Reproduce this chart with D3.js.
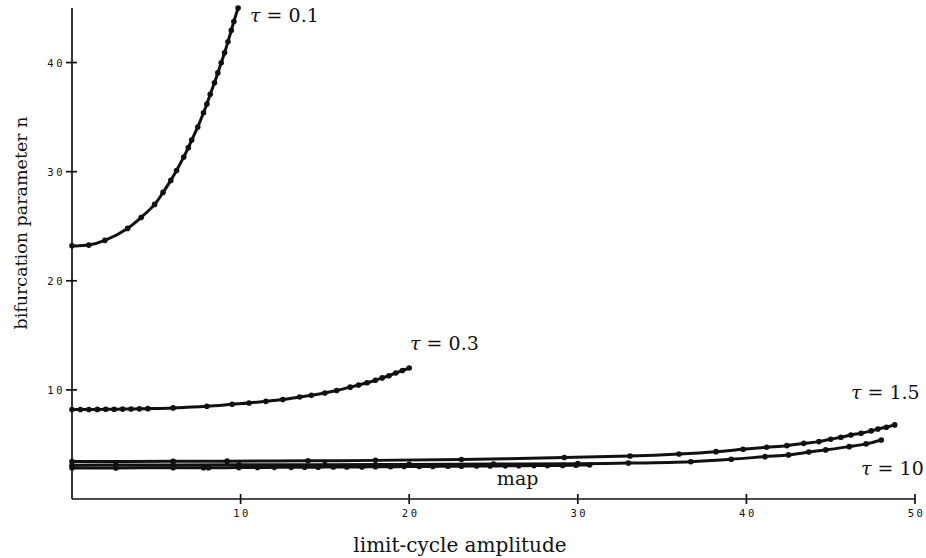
<!DOCTYPE html>
<html>
<head>
<meta charset="utf-8">
<script src="https://cdn.jsdelivr.net/npm/d3@7"></script>
<style>
  html, body { margin: 0; padding: 0; background: #fff; }
  svg { display: block; }
  .tick-label { font-family: "DejaVu Sans Mono", monospace; font-size: 10.5px; letter-spacing: 2.5px; fill: #111; }
  .title { font-family: "DejaVu Serif", serif; fill: #111; }
  .curve-label { font-family: "DejaVu Serif", serif; font-size: 19px; fill: #111; }
</style>
</head>
<body>
<svg id="chart" width="926" height="558"></svg>
<script>
// Bifurcation parameter n versus limit-cycle amplitude, for several delays tau

const xTicks = [10, 20, 30, 40, 50];
const yTicks = [10, 20, 30, 40];

const tau01X = [0, 1.0, 1.95, 3.3, 4.1, 4.9, 5.4, 5.86, 6.2, 6.63, 6.9, 7.1, 7.46, 7.8, 8.0, 8.2, 8.45, 8.65, 8.85, 9.05, 9.25, 9.45, 9.6, 9.85];
const tau01N = [23.2, 23.27, 23.7, 24.8, 25.8, 27.0, 28.1, 29.2, 30.1, 31.35, 32.2, 32.9, 34.1, 35.4, 36.2, 37.1, 38.15, 39.05, 39.98, 40.9, 41.9, 42.96, 43.76, 45.0];

const tau03X = [0, 0.5, 1.0, 1.5, 2.0, 2.5, 3.0, 3.5, 4.0, 4.5, 6.0, 8.0, 9.5, 10.5, 11.5, 12.5, 13.5, 14.2, 15.0, 15.7, 16.5, 17.0, 17.5, 18.0, 18.4, 18.8, 19.2, 19.6, 20.0];
const tau03N = [8.2, 8.2, 8.2, 8.21, 8.22, 8.23, 8.24, 8.25, 8.26, 8.28, 8.35, 8.5, 8.68, 8.8, 8.95, 9.12, 9.35, 9.5, 9.72, 9.95, 10.25, 10.45, 10.65, 10.88, 11.1, 11.3, 11.55, 11.78, 12.0];

const tau15X = [0, 6.0, 9.2, 14.0, 18.0, 23.1, 29.2, 33.1, 36.0, 38.2, 39.8, 41.2, 42.4, 43.4, 44.3, 45.0, 45.6, 46.2, 46.8, 47.4, 47.8, 48.3, 48.8];
const tau15N = [3.44, 3.45, 3.47, 3.5, 3.54, 3.62, 3.8, 3.94, 4.13, 4.34, 4.56, 4.74, 4.89, 5.1, 5.26, 5.48, 5.66, 5.87, 6.03, 6.24, 6.42, 6.58, 6.79];

const tau10X = [0, 2.6, 6.0, 9.9, 15.0, 20.0, 25.0, 30.0, 33.0, 36.7, 39.1, 41.1, 42.5, 43.7, 44.7, 46.1, 47.1, 48.0];
const tau10N = [3.1, 3.11, 3.12, 3.13, 3.15, 3.17, 3.2, 3.24, 3.29, 3.42, 3.64, 3.88, 4.04, 4.3, 4.5, 4.8, 5.05, 5.41];

const mapX = [0, 2.6, 6.0, 7.8, 8.1, 9.9, 11.0, 12.0, 13.0, 13.8, 14.6, 15.5, 16.3, 17.2, 18.0, 18.9, 19.7, 20.6, 21.4, 22.3, 23.1, 24.0, 24.8, 25.7, 26.5, 27.4, 28.2, 29.1, 29.9, 30.7];
const mapN = [2.84, 2.85, 2.86, 2.87, 2.87, 2.88, 2.89, 2.9, 2.9, 2.91, 2.92, 2.93, 2.93, 2.94, 2.95, 2.96, 2.97, 2.98, 2.99, 3.0, 3.01, 3.02, 3.03, 3.04, 3.05, 3.06, 3.07, 3.08, 3.1, 3.12];

const seriesList = [
  { xs: tau01X, ns: tau01N },
  { xs: tau03X, ns: tau03N },
  { xs: tau15X, ns: tau15N },
  { xs: tau10X, ns: tau10N },
  { xs: mapX, ns: mapN }
];

const curveLabels = [
  { tau: "0.1", x: 10.56, n: 43.7 },
  { tau: "0.3", x: 20.05, n: 13.66 },
  { tau: "1.5", x: 46.2, n: 9.17 },
  { tau: "10", x: 46.8, n: 2.2 }
];

const svg = d3.select("#chart");
const x = d3.scaleLinear().domain([0, 50]).range([72, 915]);
const y = d3.scaleLinear().domain([0, 45]).range([499, 8]);

// axes frame
const axisG = svg.append("g").attr("stroke", "#111").attr("stroke-width", 1.7);
axisG.append("line").attr("x1", x(0)).attr("x2", x(0)).attr("y1", y(45)).attr("y2", y(0));
axisG.append("line").attr("x1", x(0)).attr("x2", x(50)).attr("y1", y(0)).attr("y2", y(0));

// y ticks cross the axis
yTicks.forEach(v => {
  axisG.append("line").attr("x1", x(0) - 6).attr("x2", x(0) + 5).attr("y1", y(v)).attr("y2", y(v));
  svg.append("text").attr("class", "tick-label")
    .attr("x", x(0) - 7).attr("y", y(v) + 4)
    .attr("text-anchor", "end").text(v);
});

// x ticks cross the axis
xTicks.forEach(v => {
  axisG.append("line").attr("x1", x(v)).attr("x2", x(v)).attr("y1", y(0) - 5).attr("y2", y(0) + 5);
  svg.append("text").attr("class", "tick-label")
    .attr("x", x(v) + 1.5).attr("y", y(0) + 18)
    .attr("text-anchor", "middle").text(v);
});

// axis titles
svg.append("text").attr("class", "title").attr("font-size", "20px")
  .attr("x", 460).attr("y", 552).attr("text-anchor", "middle")
  .text("limit-cycle amplitude");
svg.append("text").attr("class", "title").attr("font-size", "17.5px")
  .attr("transform", "translate(27,223) rotate(-90)")
  .attr("text-anchor", "middle")
  .text("bifurcation parameter n");

// curves with their computed points
const line = d3.line().x(d => x(d[0])).y(d => y(d[1])).curve(d3.curveCatmullRom);
seriesList.forEach(s => {
  const pts = s.xs.map((v, i) => [v, s.ns[i]]);
  svg.append("path").attr("d", line(pts))
    .attr("fill", "none").attr("stroke", "#111").attr("stroke-width", 3)
    .attr("stroke-linejoin", "round");
  svg.append("g").selectAll("circle").data(pts).join("circle")
    .attr("cx", d => x(d[0])).attr("cy", d => y(d[1])).attr("r", 2.8).attr("fill", "#111");
});

// curve labels
curveLabels.forEach(l => {
  const t = svg.append("text").attr("class", "curve-label")
    .attr("x", x(l.x)).attr("y", y(l.n));
  t.append("tspan").attr("font-style", "italic").text("τ");
  t.append("tspan").text(" = " + l.tau);
});
svg.append("text").attr("class", "curve-label")
  .attr("x", x(25.2)).attr("y", y(1.28)).text("map");
</script>
</body>
</html>
